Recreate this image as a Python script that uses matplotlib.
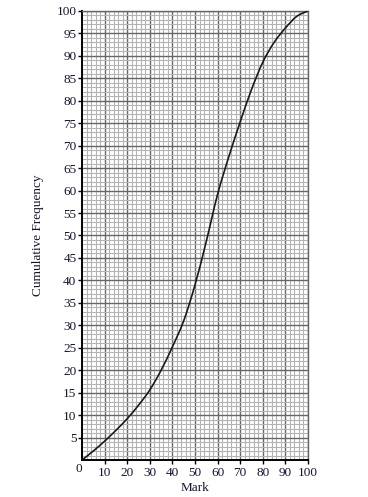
import matplotlib
matplotlib.use("Agg")
import matplotlib.pyplot as plt
from matplotlib.ticker import MultipleLocator
from matplotlib.path import Path
from matplotlib.patches import PathPatch

marks = [0, 5, 10, 15, 20, 25, 30, 35, 40, 45, 50, 55, 60, 65, 70, 75, 80, 85, 90, 95, 100]
cum_freq = [0, 2, 4.2, 6.6, 9.2, 12.2, 15.6, 20, 25.2, 31, 39, 48.7, 59.2, 67.6, 75.3, 82.5, 88.6, 93, 96.2, 98.8, 100]
x_tick_labels = [10, 20, 30, 40, 50, 60, 70, 80, 90, 100]
y_tick_labels = [5, 10, 15, 20, 25, 30, 35, 40, 45, 50, 55, 60, 65, 70, 75, 80, 85, 90, 95, 100]

plt.rcParams['font.family'] = ['Liberation Serif', 'DejaVu Serif']
txt_color = '#141432'

fig = plt.figure(figsize=(3.68, 4.97), dpi=100)
ax = fig.add_axes([82/368, 37/497, 226/368, 449/497])

ax.set_xlim(0, 100)
ax.set_ylim(0, 100)

ax.xaxis.set_major_locator(MultipleLocator(10))
ax.xaxis.set_minor_locator(MultipleLocator(2))
ax.yaxis.set_major_locator(MultipleLocator(5))
ax.yaxis.set_minor_locator(MultipleLocator(1))

ax.grid(which='minor', color='#b4b4b4', linewidth=0.8)
ax.grid(which='major', color='#666666', linewidth=1.0)
ax.set_axisbelow(True)

ax.set_xticks(x_tick_labels)
ax.set_xticklabels([str(v) for v in x_tick_labels])
ax.set_yticks(y_tick_labels)
ax.set_yticklabels([str(v) for v in y_tick_labels])

ax.tick_params(which='major', direction='out', length=3, width=1, color='black',
               labelsize=9.5, labelcolor=txt_color)
ax.tick_params(axis='y', which='major', pad=1)
ax.tick_params(axis='x', which='major', pad=2)
ax.tick_params(which='minor', length=0)

for s in ['top', 'right']:
    ax.spines[s].set_color('#666666')
    ax.spines[s].set_linewidth(1.0)
for s in ['left', 'bottom']:
    ax.spines[s].set_color('black')
    ax.spines[s].set_linewidth(1.4)

# smooth curve through the read points (Catmull-Rom as cubic Bezier path)
verts = [(marks[0], cum_freq[0])]
codes = [Path.MOVETO]
n = len(marks)
for i in range(n - 1):
    p0 = (marks[max(i - 1, 0)], cum_freq[max(i - 1, 0)])
    p1 = (marks[i], cum_freq[i])
    p2 = (marks[i + 1], cum_freq[i + 1])
    p3 = (marks[min(i + 2, n - 1)], cum_freq[min(i + 2, n - 1)])
    c1 = (p1[0] + (p2[0] - p0[0]) / 6, p1[1] + (p2[1] - p0[1]) / 6)
    c2 = (p2[0] - (p3[0] - p1[0]) / 6, p2[1] - (p3[1] - p1[1]) / 6)
    verts += [c1, c2, p2]
    codes += [Path.CURVE4, Path.CURVE4, Path.CURVE4]
curve = PathPatch(Path(verts, codes), facecolor='none', edgecolor='#1a1a1a',
                  linewidth=1.2, capstyle='round', zorder=3)
ax.add_patch(curve)

ax.text(-1.5, -0.6, '0', transform=ax.transData, ha='center', va='top',
        fontsize=9.5, color=txt_color)

ax.set_xlabel('Mark', fontsize=9.5, color=txt_color)
ax.set_ylabel('Cumulative Frequency', fontsize=9.5, color=txt_color)
ax.xaxis.set_label_coords(0.5, -0.05)
ax.yaxis.set_label_coords(-0.168, 0.5)

fig.savefig('out.png', dpi=100)
